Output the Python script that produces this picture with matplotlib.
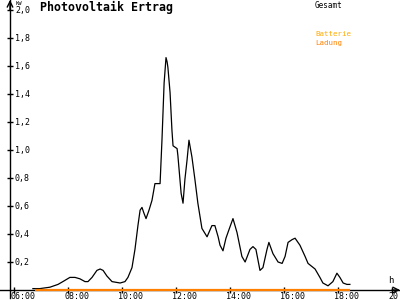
import matplotlib
matplotlib.use("Agg")
import matplotlib.pyplot as plt

# PV output (Gesamt), hours vs kW
hours = [6.70, 6.96, 7.33, 7.63, 7.81, 8.07, 8.26, 8.44, 8.63, 8.74, 8.89, 9.07,
         9.19, 9.30, 9.44, 9.63, 9.93, 10.11, 10.22, 10.37, 10.48, 10.59, 10.67,
         10.74, 10.81, 10.89, 11.00, 11.11, 11.22, 11.41, 11.48, 11.56, 11.63,
         11.67, 11.70, 11.78, 11.85, 11.89, 12.04, 12.07, 12.19, 12.26, 12.33,
         12.41, 12.48, 12.59, 12.70, 12.81, 12.96, 13.15, 13.33, 13.44, 13.56,
         13.63, 13.74, 13.85, 13.96, 14.11, 14.26, 14.44, 14.56, 14.74, 14.85,
         14.96, 15.11, 15.22, 15.37, 15.44, 15.59, 15.78, 15.93, 16.04, 16.15,
         16.30, 16.41, 16.59, 16.78, 16.89, 17.15, 17.33, 17.44, 17.63, 17.81,
         17.96, 18.07, 18.19, 18.33, 18.44]
gesamt = [0.01, 0.01, 0.02, 0.04, 0.06, 0.09, 0.09, 0.08, 0.06, 0.06, 0.09, 0.14,
          0.15, 0.14, 0.10, 0.06, 0.05, 0.06, 0.09, 0.16, 0.29, 0.46, 0.57,
          0.59, 0.55, 0.51, 0.57, 0.64, 0.76, 0.76, 1.07, 1.48, 1.66,
          1.63, 1.59, 1.41, 1.14, 1.03, 1.01, 0.96, 0.69, 0.62, 0.79,
          0.93, 1.07, 0.95, 0.79, 0.62, 0.44, 0.38, 0.46, 0.46, 0.38,
          0.32, 0.28, 0.37, 0.43, 0.51, 0.41, 0.24, 0.20, 0.29, 0.31,
          0.29, 0.14, 0.16, 0.29, 0.34, 0.26, 0.20, 0.19, 0.24, 0.34,
          0.36, 0.37, 0.32, 0.24, 0.19, 0.15, 0.09, 0.05, 0.03, 0.06,
          0.12, 0.09, 0.05, 0.04, 0.04]

# battery charge (Ladung) stays at zero
ladung_hours = [6.78, 18.44]
ladung = [0.0, 0.0]

yticks = [0.2, 0.4, 0.6, 0.8, 1.0, 1.2, 1.4, 1.6, 1.8, 2.0]
ytick_labels = ["0,2", "0,4", "0,6", "0,8", "1,0", "1,2", "1,4", "1,6", "1,8", "2,0"]
xticks = [6, 8, 10, 12, 14, 16, 18, 20]
xtick_labels = ["06:00", "08:00", "10:00", "12:00", "14:00", "16:00", "18:00", "20:00"]

mono = "DejaVu Sans Mono"
fig = plt.figure(figsize=(4, 3), dpi=100)
ax = fig.add_axes([0, 0, 1, 1])
ax.set_xlim(5.4815, 20.296)
ax.set_ylim(-0.0714, 2.0714)

yaxis_x = 5.852
ax.spines["top"].set_visible(False)
ax.spines["right"].set_visible(False)
ax.spines["left"].set_position(("data", yaxis_x))
ax.spines["left"].set_bounds(-0.06, 2.07)
ax.spines["bottom"].set_position(("data", 0))
for s in ("left", "bottom"):
    ax.spines[s].set_linewidth(1.0)
ax.set_xticks(xticks)
ax.set_yticks(yticks)
ax.tick_params(direction="inout", length=4.5, width=1.0, labelleft=False, labelbottom=False)

# arrow heads
ax.annotate("", xy=(20.296, 0), xytext=(20.0, 0),
            arrowprops=dict(arrowstyle="->", lw=1.0, color="black", shrinkA=0, shrinkB=0))
ax.annotate("", xy=(yaxis_x, 2.0714), xytext=(yaxis_x, 2.0),
            arrowprops=dict(arrowstyle="->", lw=1.0, color="black", shrinkA=0, shrinkB=0))

for v, lab in zip(yticks, ytick_labels):
    ax.text(6.037, v - 0.006, lab, fontsize=6, family=mono, ha="left", va="center")
for h, lab in zip(xticks, xtick_labels):
    ax.text(h - 0.13, -0.045, lab, fontsize=6, family=mono, ha="left", va="center",
            clip_on=False)

ax.text(6.05, 2.049, "KW", fontsize=4, family=mono, ha="left", va="center")
ax.text(19.87, 0.07, "h", fontsize=6.5, family=mono, ha="left", va="center")

ax.plot(hours, gesamt, color="black", lw=0.9)
ax.plot(ladung_hours, ladung, color="#ff8000", lw=1.6, solid_capstyle="butt", zorder=3)

ax.text(6.95, 2.02, "Photovoltaik Ertrag", fontsize=8.4, family=mono,
        fontweight="bold", ha="left", va="center")
ax.text(17.15, 2.035, "Gesamt", fontsize=5.5, family=mono, ha="left", va="center")
ax.text(17.15, 1.825, "Batterie", fontsize=5.3, family=mono, color="#ffaa00",
        ha="left", va="center")
ax.text(17.15, 1.763, "Ladung", fontsize=5.3, family=mono, color="#ff8000",
        ha="left", va="center")

fig.savefig("out.png", dpi=100)
